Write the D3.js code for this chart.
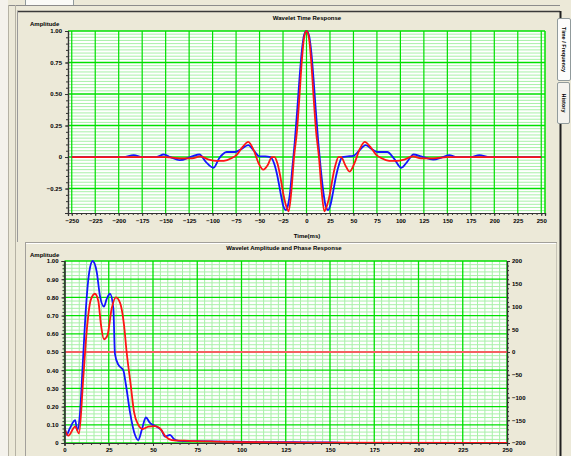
<!DOCTYPE html>
<html>
<head>
<meta charset="utf-8">
<script src="https://cdn.jsdelivr.net/npm/d3@7"></script>
<style>
body { margin: 0; background: #ece9d8; overflow: hidden; }
text { font-family: "Liberation Sans", Arial, sans-serif; font-weight: bold; font-size: 6px; fill: #000; }
</style>
</head>
<body>
<script>
// time response (ms)
var timeRed = [-250,-200,-170,-150,-135,-122,-113,-104,-96,-88,-80,-74,-68,-62,-56,-51,-46,-41,-37,-34,-31,-28,-25,-22,-19,-16,-13.5,-10,-7.5,-5,-2.5,0,
               2.5,5,7.5,10,13.5,16,19,22,25,28,31,34,37,41,46,51,56,62,68,74,80,88,96,104,113,122,135,150,170,200,250];
var ampRedTime = [0,0,0,0,-0.01,-0.01,0.005,-0.02,-0.03,-0.03,-0.01,0.02,0.08,0.12,0.05,-0.05,-0.10,-0.06,0,0,-0.05,-0.15,-0.28,-0.38,-0.43,-0.26,-0.02,0.22,0.48,0.76,0.95,1.0,
                  0.95,0.76,0.48,0.22,-0.02,-0.26,-0.43,-0.38,-0.29,-0.16,-0.06,0,0,-0.06,-0.115,-0.05,0.05,0.12,0.08,0.02,-0.01,-0.03,-0.03,-0.02,0.005,-0.01,-0.01,0,0,0,0];

var timeBlue = [-250,-195,-184,-175,-160,-152,-145,-135,-122,-114,-107,-99,-93,-85,-76,-70,-62,-56,-50,-44,-38.5,-34.5,-31,-28,-25,-22,-20,-17.5,-15,-12.5,-10,-7.5,-5,-2.5,0,
                2.5,5,7.5,10,12.5,15,18,20.5,23,25.5,28.5,31.5,35,38,44,50,56,63,70,76,86,93,101,107,114,122,135,145,152,160,175,184,195,250];
var ampBlueTime = [0,0,0.015,0,0,0.02,0,-0.025,0.005,0.02,-0.04,-0.085,-0.01,0.04,0.04,0.06,0.095,0.05,0.005,0.005,0,-0.05,-0.15,-0.27,-0.38,-0.42,-0.39,-0.28,-0.08,0.12,0.36,0.62,0.84,0.97,1.0,
                   0.97,0.84,0.62,0.36,0.12,-0.08,-0.28,-0.39,-0.42,-0.38,-0.27,-0.15,-0.05,0,0.005,0.01,0.05,0.095,0.06,0.04,0.04,-0.01,-0.085,-0.04,0.02,0.005,-0.02,0,0.015,0,0,0.015,0,0];

// amplitude spectra (Hz)
var freqBlue = [0,1.2,3,6,7.2,8.8,10.3,12.1,14,15.9,18.2,20,22.3,23.8,25.7,27.6,28.5,30.4,33.2,34.7,37,39.8,41.7,43.6,46,48.3,52,54.8,56.8,59.6,62,64.5,75,90,110,130,150,155,160,250];
var ampBlue  = [0.10,0.045,0.08,0.126,0.07,0.17,0.43,0.74,0.94,1.0,0.94,0.81,0.75,0.79,0.82,0.74,0.49,0.43,0.40,0.32,0.17,0.045,0.016,0.07,0.14,0.11,0.09,0.07,0.035,0.045,0.02,0.012,0.01,0.008,0.005,0.004,0.003,0.002,0,0];

var freqRed = [0,2.2,6,8.2,10.6,12.5,14.8,17.2,19.1,20.6,22.3,24.2,26.7,29,31.4,33.6,35.1,37.4,39.3,41.7,44.2,47.4,51.1,54,57.2,60.6,70,85,100,120,145,250];
var ampRed  = [0.08,0.04,0.09,0.053,0.355,0.61,0.785,0.82,0.78,0.65,0.57,0.59,0.74,0.80,0.77,0.65,0.50,0.32,0.17,0.10,0.077,0.09,0.093,0.08,0.035,0.016,0.012,0.008,0.005,0.003,0.002,0];

// phase (degrees)
var freqPhase = [0, 250];
var phaseBlue = [0, 0];
var phaseRed = [0, 0];

// tick labels
var timeTicks = d3.range(-250, 251, 25);
var ampTicksTop = [-0.25, 0, 0.25, 0.5, 0.75, 1.0];
var freqTicks = d3.range(0, 251, 25);
var ampTicksBottom = d3.range(0, 1.01, 0.1);
var phaseTicks = d3.range(-200, 201, 50);

var svg = d3.select("body").append("svg")
            .attr("width", 571)
            .attr("height", 456);

//window chrome
svg.append("rect").attr("width", 571).attr("height", 456).attr("fill", "#ece9d8");
svg.append("rect").attr("x", 0).attr("y", 0).attr("width", 8).attr("height", 456).attr("fill", "#f4f2ec");
svg.append("rect").attr("x", 25.5).attr("y", -1).attr("width", 48).attr("height", 6.5).attr("fill", "#fbfbf8").attr("stroke", "#919b9c");
function hline(x1, x2, y, c, w) {
  svg.append("line").attr("x1", x1).attr("x2", x2).attr("y1", y).attr("y2", y).attr("stroke", c).attr("stroke-width", w || 1);
}
function vline(x, y1, y2, c, w) {
  svg.append("line").attr("x1", x).attr("x2", x).attr("y1", y1).attr("y2", y2).attr("stroke", c).attr("stroke-width", w || 1);
}
hline(8, 560, 5.5, "#8c8c8c");
vline(8.5, 5, 456, "#b5b2a4");
vline(15.5, 5, 456, "#b5b2a4");
hline(17, 560, 11.5, "#3a3a3a", 1.5);
vline(17.5, 11, 242, "#9a9a9a");
hline(25, 557, 242.5, "#a2a09a");
hline(25, 557, 243.5, "#ffffff");
vline(25.5, 243, 456, "#a2a09a");
vline(556.5, 243, 456, "#c8c5b8");
vline(560.5, 11, 18, "#202020", 2);
vline(560.5, 124, 456, "#202020", 2);

var tab1 = svg.append("g");
tab1.append("rect").attr("x", 557.5).attr("y", 18.5).attr("width", 13).attr("height", 62).attr("rx", 1.5).attr("fill", "#fcfcfb").attr("stroke", "#919b9c");
tab1.append("text").attr("transform", "translate(562,49.5) rotate(90)").attr("text-anchor", "middle").style("font-size", "5.5px").text("Time / Frequency");
var tab2 = svg.append("g");
tab2.append("rect").attr("x", 557.5).attr("y", 82.5).attr("width", 12).attr("height", 41).attr("rx", 1.5).attr("fill", "#f4f3ee").attr("stroke", "#919b9c");
tab2.append("text").attr("transform", "translate(562,103) rotate(90)").attr("text-anchor", "middle").style("font-size", "5.5px").text("History");

var majorGreen = "#00e000";
var minorGreen = "#a8f0a8";

//top chart : wavelet time response
var xTop = d3.scaleLinear().domain([-254, 254]).range([68, 545]);
var yTop = d3.scaleLinear().domain([-0.444, 1]).range([213, 31]);

var timeChart = svg.append("g");
timeChart.append("rect").attr("x", 68).attr("y", 31).attr("width", 477).attr("height", 182).attr("fill", "#ffffff");

timeChart.append("g").selectAll("line")
   .data(d3.range(-0.425, 1.0, 0.025).filter(function (d) { return Math.abs(d / 0.25 - Math.round(d / 0.25)) > 0.01; }))
   .enter().append("line")
   .attr("x1", 68).attr("x2", 545)
   .attr("y1", function (d) { return yTop(d); }).attr("y2", function (d) { return yTop(d); })
   .attr("stroke", minorGreen).attr("stroke-width", 1);

timeChart.append("g").selectAll("line").data(ampTicksTop).enter().append("line")
   .attr("x1", 68).attr("x2", 545)
   .attr("y1", function (d) { return yTop(d); }).attr("y2", function (d) { return yTop(d); })
   .attr("stroke", majorGreen).attr("stroke-width", 1.5);

timeChart.append("g").selectAll("line").data(timeTicks).enter().append("line")
   .attr("x1", function (d) { return xTop(d); }).attr("x2", function (d) { return xTop(d); })
   .attr("y1", 31).attr("y2", 213)
   .attr("stroke", majorGreen).attr("stroke-width", 1.2);
vline(545, 31, 213, majorGreen, 1.5);

svg.append("clipPath").attr("id", "clipTop").append("rect").attr("x", 68).attr("y", 30).attr("width", 477).attr("height", 184);

var lineTop = function (xs) {
  return d3.line()
           .x(function (d, i) { return xTop(xs[i]); })
           .y(function (d) { return yTop(d); })
           .curve(d3.curveMonotoneX);
};
timeChart.append("path").attr("clip-path", "url(#clipTop)").attr("d", lineTop(timeBlue)(ampBlueTime))
   .attr("fill", "none").attr("stroke", "#1414ff").attr("stroke-width", 1.8);
timeChart.append("path").attr("clip-path", "url(#clipTop)").attr("d", lineTop(timeRed)(ampRedTime))
   .attr("fill", "none").attr("stroke", "#ff1414").attr("stroke-width", 1.8);

var fmtTop = function (d) { return d === 0 ? "0" : d3.format(".2f")(d); };
timeChart.append("g").attr("transform", "translate(68,0)")
   .call(d3.axisLeft(yTop).tickValues(ampTicksTop).tickSize(3).tickPadding(3).tickFormat(fmtTop));
timeChart.append("g").attr("transform", "translate(68,0)")
   .call(d3.axisLeft(yTop).tickValues(d3.range(-0.4, 1.01, 0.05)).tickSize(2).tickFormat(""));
timeChart.append("g").attr("transform", "translate(0,213)")
   .call(d3.axisBottom(xTop).tickValues(timeTicks).tickSize(3).tickPadding(3).tickFormat(d3.format("d")));
timeChart.append("g").attr("transform", "translate(0,213)")
   .call(d3.axisBottom(xTop).tickValues(d3.range(-250, 251, 5)).tickSize(2).tickFormat(""));

timeChart.append("text").attr("x", 307).attr("y", 20).attr("text-anchor", "middle").text("Wavelet Time Response");
timeChart.append("text").attr("x", 30).attr("y", 26).text("Amplitude");
timeChart.append("text").attr("x", 307).attr("y", 238).attr("text-anchor", "middle").text("Time(ms)");

//bottom chart : amplitude and phase response
var xBot = d3.scaleLinear().domain([0, 250]).range([64.5, 507]);
var yBot = d3.scaleLinear().domain([0, 1]).range([443, 261]);
var yPhase = d3.scaleLinear().domain([-200, 200]).range([443, 261]);

var freqChart = svg.append("g");
freqChart.append("rect").attr("x", 64.5).attr("y", 261).attr("width", 442.5).attr("height", 182).attr("fill", "#ffffff");

freqChart.append("g").selectAll("line")
   .data(d3.range(0.02, 1.0, 0.02).filter(function (d) { return Math.abs(d * 10 - Math.round(d * 10)) > 0.01; }))
   .enter().append("line")
   .attr("x1", 64.5).attr("x2", 507)
   .attr("y1", function (d) { return yBot(d); }).attr("y2", function (d) { return yBot(d); })
   .attr("stroke", minorGreen).attr("stroke-width", 1);

freqChart.append("g").selectAll("line")
   .data(d3.range(25 / 6, 250, 25 / 6).filter(function (d) { return Math.abs(d / 25 - Math.round(d / 25)) > 0.01; }))
   .enter().append("line")
   .attr("x1", function (d) { return xBot(d); }).attr("x2", function (d) { return xBot(d); })
   .attr("y1", 261).attr("y2", 443)
   .attr("stroke", minorGreen).attr("stroke-width", 1);

freqChart.append("g").selectAll("line").data(ampTicksBottom).enter().append("line")
   .attr("x1", 64.5).attr("x2", 507)
   .attr("y1", function (d) { return yBot(d); }).attr("y2", function (d) { return yBot(d); })
   .attr("stroke", majorGreen).attr("stroke-width", 1.3);

freqChart.append("g").selectAll("line").data(freqTicks).enter().append("line")
   .attr("x1", function (d) { return xBot(d); }).attr("x2", function (d) { return xBot(d); })
   .attr("y1", 261).attr("y2", 443)
   .attr("stroke", majorGreen).attr("stroke-width", 1.3);

svg.append("clipPath").attr("id", "clipBot").append("rect").attr("x", 64.5).attr("y", 259).attr("width", 442.5).attr("height", 185);

var lineBot = function (xs, y) {
  return d3.line()
           .x(function (d, i) { return xBot(xs[i]); })
           .y(function (d) { return y(d); })
           .curve(d3.curveMonotoneX);
};
freqChart.append("path").attr("clip-path", "url(#clipBot)").attr("d", lineBot(freqPhase, yPhase)(phaseBlue))
   .attr("fill", "none").attr("stroke", "#6060ff").attr("stroke-width", 2);
freqChart.append("path").attr("clip-path", "url(#clipBot)").attr("d", lineBot(freqPhase, yPhase)(phaseRed))
   .attr("fill", "none").attr("stroke", "#f46060").attr("stroke-width", 2.2);
freqChart.append("path").attr("clip-path", "url(#clipBot)").attr("d", lineBot(freqBlue, yBot)(ampBlue))
   .attr("fill", "none").attr("stroke", "#1414ff").attr("stroke-width", 1.8);
freqChart.append("path").attr("clip-path", "url(#clipBot)").attr("d", lineBot(freqRed, yBot)(ampRed))
   .attr("fill", "none").attr("stroke", "#ff1414").attr("stroke-width", 1.8);

var fmtBot = function (d) { return Math.abs(d) < 1e-9 ? "0" : d3.format(".2f")(d); };
freqChart.append("g").attr("transform", "translate(64.5,0)")
   .call(d3.axisLeft(yBot).tickValues(ampTicksBottom).tickSize(3).tickPadding(3).tickFormat(fmtBot));
freqChart.append("g").attr("transform", "translate(64.5,0)")
   .call(d3.axisLeft(yBot).tickValues(d3.range(0, 1.001, 0.02)).tickSize(2).tickFormat(""));
freqChart.append("g").attr("transform", "translate(507,0)")
   .call(d3.axisRight(yPhase).tickValues(phaseTicks).tickSize(3).tickPadding(2).tickFormat(d3.format("d")));
freqChart.append("g").attr("transform", "translate(507,0)")
   .call(d3.axisRight(yPhase).tickValues(d3.range(-200, 201, 10)).tickSize(2).tickFormat(""));
freqChart.append("g").attr("transform", "translate(0,443)")
   .call(d3.axisBottom(xBot).tickValues(freqTicks).tickSize(3).tickPadding(2).tickFormat(d3.format("d")));
freqChart.append("g").attr("transform", "translate(0,443)")
   .call(d3.axisBottom(xBot).tickValues(d3.range(0, 251, 5)).tickSize(2).tickFormat(""));

freqChart.append("text").attr("x", 284).attr("y", 250).attr("text-anchor", "middle").text("Wavelet Amplitude and Phase Response");
freqChart.append("text").attr("x", 30).attr("y", 257).text("Amplitude");

//axis styling
svg.selectAll(".tick text").attr("font-size", null).style("font-size", "6px").style("font-weight", "bold");
svg.selectAll(".domain").attr("stroke", "#333").attr("stroke-width", 1.2);
svg.selectAll(".tick line").attr("stroke", "#333");
</script>
</body>
</html>
